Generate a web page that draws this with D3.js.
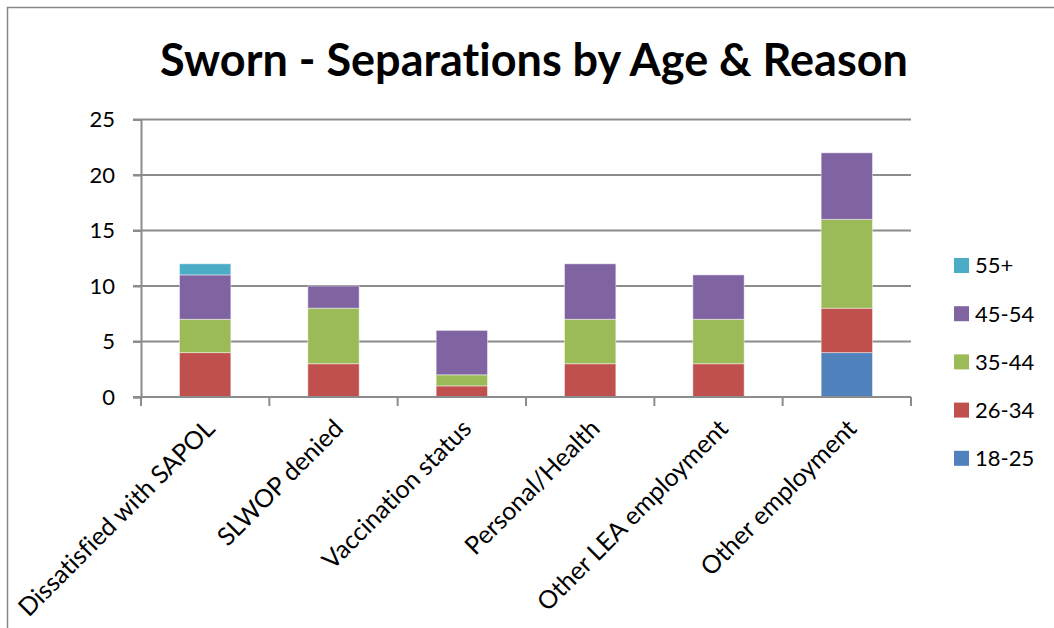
<!DOCTYPE html>
<html>
<head>
<meta charset="utf-8">
<script src="https://cdn.jsdelivr.net/npm/d3@7"></script>
<style>
  body { margin: 0; background: #fff; }
  svg text { font-family: Lato, "Open Sans", sans-serif; fill: #000; font-variant-ligatures: none; }
</style>
</head>
<body>
<svg class="chart" width="1054" height="628"></svg>
<script>
var reasons = ["Dissatisfied with SAPOL", "SLWOP denied", "Vaccination status",
               "Personal/Health", "Other LEA employment", "Other employment"];
var ageGroups = ["18-25", "26-34", "35-44", "45-54", "55+"];
var age18_25 = [0, 0, 0, 0, 0, 4];
var age26_34 = [4, 3, 1, 3, 3, 4];
var age35_44 = [3, 5, 1, 4, 4, 8];
var age45_54 = [4, 2, 4, 5, 4, 6];
var age55plus = [1, 0, 0, 0, 0, 0];
var yTicks = [0, 5, 10, 15, 20, 25];
var colors = ["#4F81BD", "#C0504D", "#9BBB59", "#8064A2", "#4BACC6"];

var series = [age18_25, age26_34, age35_44, age45_54, age55plus];
var rows = reasons.map(function (r, i) {
  var row = {reason: r};
  ageGroups.forEach(function (a, j) { row[a] = series[j][i]; });
  return row;
});

var svg = d3.select("svg.chart"),
    margin = {top: 119.5, right: 143, bottom: 231, left: 141},
    width = +svg.attr("width") - margin.left - margin.right,
    height = +svg.attr("height") - margin.top - margin.bottom;

// chart frame (only top and left edges fall inside the picture)
svg.append("rect")
    .attr("x", 7.5).attr("y", 7.5)
    .attr("width", 1100).attr("height", 700)
    .attr("fill", "none")
    .attr("stroke", "#868686")
    .attr("stroke-width", 1.5);

svg.append("text")
    .attr("x", 534)
    .attr("y", 76)
    .attr("text-anchor", "middle")
    .style("font-size", "45px")
    .style("font-weight", "bold")
    .text("Sworn - Separations by Age & Reason");

var g = svg.append("g").attr("transform", "translate(" + margin.left + "," + margin.top + ")");

var x = d3.scaleBand().domain(reasons).range([0, width]).paddingInner(0.6).paddingOuter(0.3);
var y = d3.scaleLinear().domain([0, 25]).range([height, 0]);

// gridlines
g.append("g")
    .selectAll("line")
    .data(yTicks)
    .enter().append("line")
      .attr("x1", -8).attr("x2", width)
      .attr("y1", function (d) { return y(d); })
      .attr("y2", function (d) { return y(d); })
      .attr("stroke", "#8c8c8c")
      .attr("stroke-width", 2);

var stack = d3.stack().keys(ageGroups)(rows);

g.selectAll(".layer")
  .data(stack)
  .enter().append("g")
    .attr("class", "layer")
    .attr("fill", function (d, i) { return colors[i]; })
  .selectAll("rect")
  .data(function (d) { return d.filter(function (p) { return p[1] > p[0]; }); })
  .enter().append("rect")
    .attr("x", function (d) { return x(d.data.reason); })
    .attr("y", function (d) { return y(d[1]); })
    .attr("width", x.bandwidth())
    .attr("height", function (d) { return y(d[0]) - y(d[1]); })
    .attr("stroke", "rgba(255,255,255,0.45)")
    .attr("stroke-width", 1);

// y axis
var yAxis = g.append("g")
    .call(d3.axisLeft(y).tickValues(yTicks).tickSize(8).tickPadding(18));
yAxis.select(".domain").attr("stroke", "#8c8c8c").attr("stroke-width", 2);
yAxis.selectAll(".tick line").attr("stroke", "#8c8c8c").attr("stroke-width", 2);
yAxis.selectAll(".tick text").style("font-size", "22px").style("font-family", "Lato, sans-serif").attr("fill", "#000");

// x axis with ticks between categories
var xBoundaries = d3.range(reasons.length + 1).map(function (i) { return i * width / reasons.length; });
var xg = g.append("g").attr("transform", "translate(0," + height + ")");
xg.append("line").attr("x1", 0).attr("x2", width).attr("stroke", "#8c8c8c").attr("stroke-width", 2);
xg.selectAll(".xtick")
  .data(xBoundaries)
  .enter().append("line")
    .attr("x1", function (d) { return d; }).attr("x2", function (d) { return d; })
    .attr("y1", 0).attr("y2", 9)
    .attr("stroke", "#8c8c8c").attr("stroke-width", 2);

xg.selectAll(".xlabel")
  .data(reasons)
  .enter().append("text")
    .attr("text-anchor", "end")
    .attr("dy", "0.35em")
    .attr("transform", function (d) {
      return "translate(" + (x(d) + x.bandwidth() / 2 + 5) + ",27) rotate(-45)";
    })
    .style("font-size", "25px")
    .text(function (d) { return d; });

// legend
var legendItems = ageGroups.slice().reverse();
var legendColors = colors.slice().reverse();
var legend = svg.append("g").attr("transform", "translate(954,258)");
var li = legend.selectAll("g")
  .data(legendItems)
  .enter().append("g")
    .attr("transform", function (d, i) { return "translate(0," + (i * 48.2) + ")"; });
li.append("rect").attr("width", 15).attr("height", 15)
    .attr("fill", function (d, i) { return legendColors[i]; });
li.append("text").attr("x", 21).attr("y", 7.5).attr("dy", "0.36em")
    .style("font-size", "22px")
    .text(function (d) { return d; });
</script>
</body>
</html>
